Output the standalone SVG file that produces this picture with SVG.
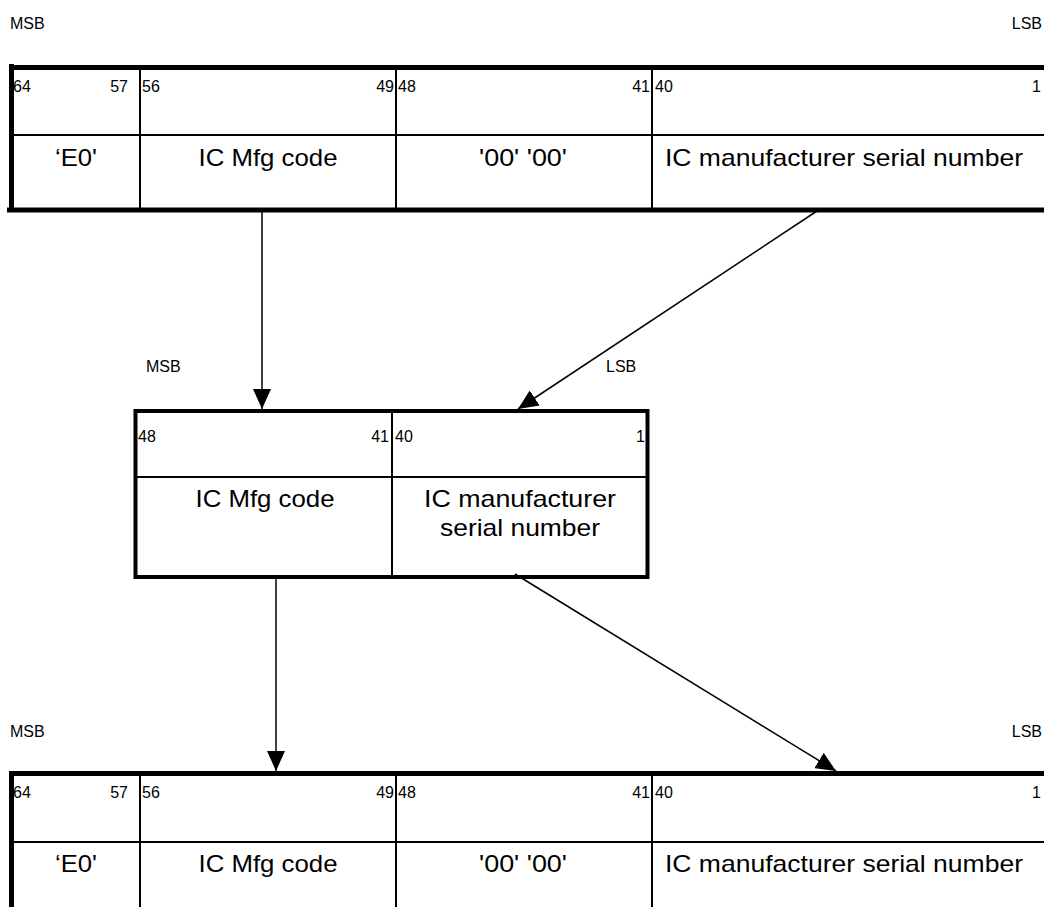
<svg xmlns="http://www.w3.org/2000/svg" width="1044" height="907" viewBox="0 0 1044 907">
<style>
  text { font-family: "Liberation Sans", Arial, sans-serif; fill: #000; }
  .s { font-size: 16px; }
  .l { font-size: 24px; }
  .thick { stroke: #000; stroke-width: 5; fill: none; }
  .thin { stroke: #000; stroke-width: 2; fill: none; }
  .conn { stroke: #000; stroke-width: 1.5; fill: none; }
</style>
<defs>
  <marker id="ah" viewBox="0 0 20 18" markerWidth="20" markerHeight="18" refX="20" refY="9" orient="auto" markerUnits="userSpaceOnUse">
    <path d="M0,0 L20,9 L0,18 z" fill="#000"/>
  </marker>
</defs>
<rect width="1044" height="907" fill="#fff"/>

<g id="top-uid">
  <text class="s" x="10" y="29">MSB</text>
  <text class="s" x="1042" y="29" text-anchor="end">LSB</text>
  <line class="thin" x1="140" y1="68" x2="140" y2="210"/>
  <line class="thin" x1="396" y1="68" x2="396" y2="210"/>
  <line class="thin" x1="652" y1="68" x2="652" y2="210"/>
  <line class="thin" x1="12" y1="135" x2="1044" y2="135"/>
  <line class="thick" x1="10" y1="67.5" x2="1044" y2="67.5"/>
  <line class="thick" x1="11.5" y1="64" x2="11.5" y2="212"/>
  <line class="thick" x1="7" y1="210" x2="1044" y2="210"/>
  <text class="s" x="13" y="92">64</text>
  <text class="s" x="128" y="92" text-anchor="end">57</text>
  <text class="s" x="142" y="92">56</text>
  <text class="s" x="394" y="92" text-anchor="end">49</text>
  <text class="s" x="398" y="92">48</text>
  <text class="s" x="650" y="92" text-anchor="end">41</text>
  <text class="s" x="655" y="92">40</text>
  <text class="s" x="1041" y="92" text-anchor="end">1</text>
  <text class="l" x="76" y="166" text-anchor="middle" textLength="42" lengthAdjust="spacingAndGlyphs">‘E0'</text>
  <text class="l" x="268" y="166" text-anchor="middle" textLength="139" lengthAdjust="spacingAndGlyphs">IC Mfg code</text>
  <text class="l" x="523" y="166" text-anchor="middle" textLength="88" lengthAdjust="spacingAndGlyphs">'00' '00'</text>
  <text class="l" x="844" y="166" text-anchor="middle" textLength="358" lengthAdjust="spacingAndGlyphs">IC manufacturer serial number</text>
</g>

<g id="mid-uid">
  <text class="s" x="146" y="372">MSB</text>
  <text class="s" x="606" y="372">LSB</text>
  <line class="thin" x1="392" y1="411" x2="392" y2="577"/>
  <line class="thin" x1="135" y1="477" x2="648" y2="477"/>
  <rect class="thick" x="135.5" y="411" width="512" height="166" style="stroke-width:4"/>
  <text class="s" x="138" y="442">48</text>
  <text class="s" x="389" y="442" text-anchor="end">41</text>
  <text class="s" x="395" y="442">40</text>
  <text class="s" x="645" y="442" text-anchor="end">1</text>
  <text class="l" x="265" y="507" text-anchor="middle" textLength="139" lengthAdjust="spacingAndGlyphs">IC Mfg code</text>
  <text class="l" x="520" y="507" text-anchor="middle" textLength="192" lengthAdjust="spacingAndGlyphs">IC manufacturer</text>
  <text class="l" x="520" y="536" text-anchor="middle" textLength="160" lengthAdjust="spacingAndGlyphs">serial number</text>
</g>

<g id="bottom-uid">
  <text class="s" x="10" y="737">MSB</text>
  <text class="s" x="1042" y="737" text-anchor="end">LSB</text>
  <line class="thin" x1="140" y1="773" x2="140" y2="907"/>
  <line class="thin" x1="396" y1="773" x2="396" y2="907"/>
  <line class="thin" x1="652" y1="773" x2="652" y2="907"/>
  <line class="thin" x1="12" y1="842" x2="1044" y2="842"/>
  <line class="thick" x1="10" y1="773.5" x2="1044" y2="773.5"/>
  <line class="thick" x1="11.5" y1="771" x2="11.5" y2="907"/>
  <text class="s" x="13" y="798">64</text>
  <text class="s" x="128" y="798" text-anchor="end">57</text>
  <text class="s" x="142" y="798">56</text>
  <text class="s" x="394" y="798" text-anchor="end">49</text>
  <text class="s" x="398" y="798">48</text>
  <text class="s" x="650" y="798" text-anchor="end">41</text>
  <text class="s" x="655" y="798">40</text>
  <text class="s" x="1041" y="798" text-anchor="end">1</text>
  <text class="l" x="76" y="872" text-anchor="middle" textLength="42" lengthAdjust="spacingAndGlyphs">‘E0'</text>
  <text class="l" x="268" y="872" text-anchor="middle" textLength="139" lengthAdjust="spacingAndGlyphs">IC Mfg code</text>
  <text class="l" x="523" y="872" text-anchor="middle" textLength="88" lengthAdjust="spacingAndGlyphs">'00' '00'</text>
  <text class="l" x="844" y="872" text-anchor="middle" textLength="358" lengthAdjust="spacingAndGlyphs">IC manufacturer serial number</text>
</g>

<g id="connectors">
  <line class="conn" x1="262" y1="212" x2="262" y2="409" marker-end="url(#ah)"/>
  <line class="conn" x1="817" y1="211" x2="518" y2="409" marker-end="url(#ah)"/>
  <line class="conn" x1="276" y1="578" x2="276" y2="771" marker-end="url(#ah)"/>
  <line class="conn" x1="515" y1="574" x2="836" y2="771" marker-end="url(#ah)"/>
</g>
</svg>
